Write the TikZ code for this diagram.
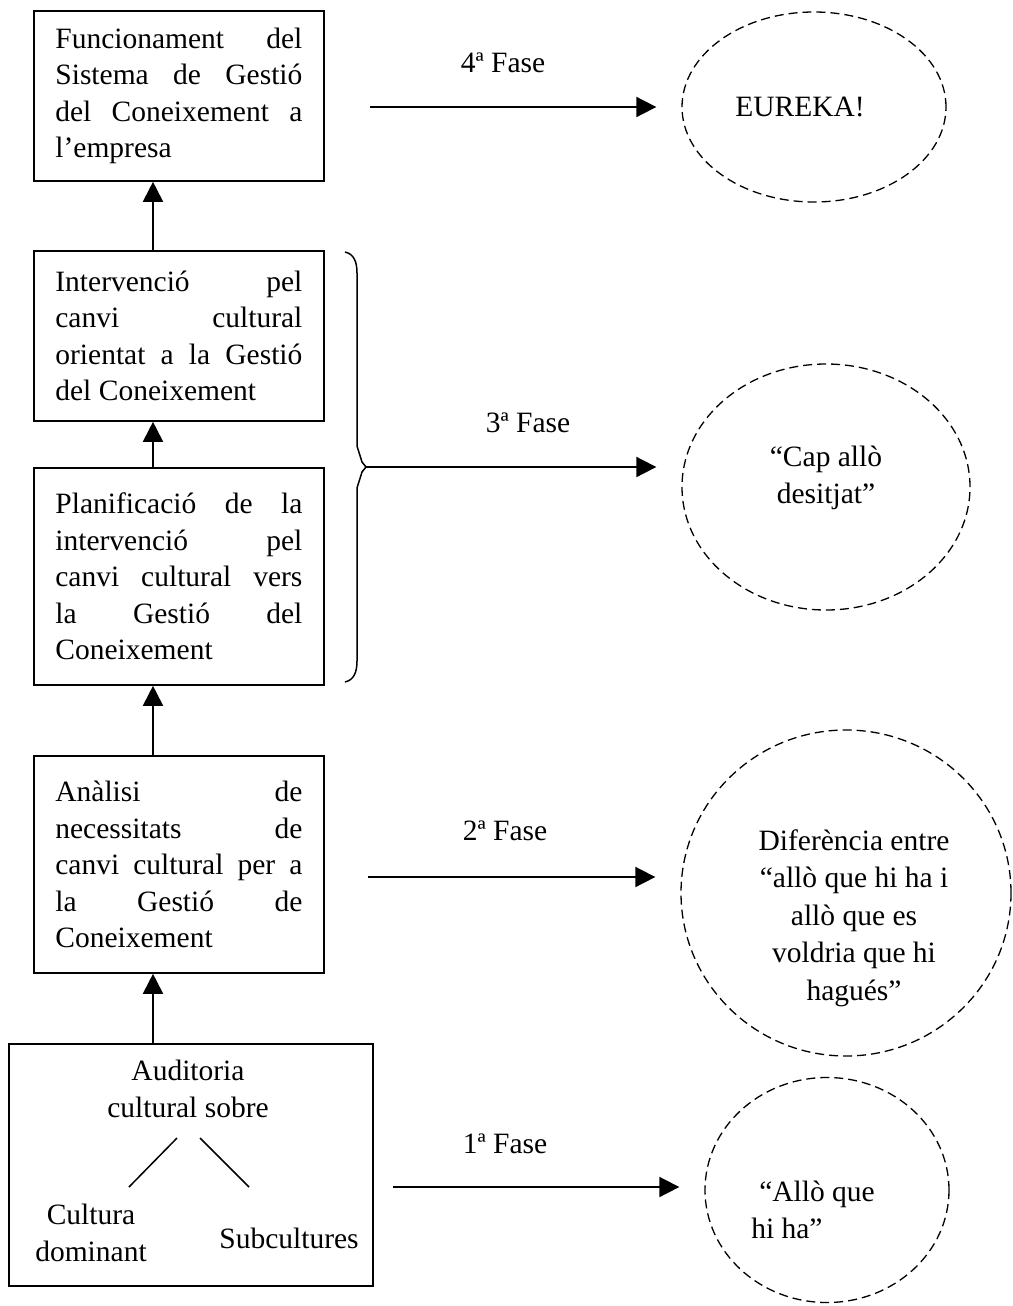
\documentclass[tikz,border=0pt]{standalone}
\usepackage{fontspec}
\setmainfont{Liberation Serif}
\usetikzlibrary{arrows.meta,shapes.geometric,calc}
\hyphenpenalty=10000
\exhyphenpenalty=10000
\begin{document}
\begin{tikzpicture}[x=1pt,y=-1pt,
  every node/.style={font=\fontsize{29.5}{36.5}\selectfont},
  stagebox/.style={draw,line width=1.8pt,text width=247pt,align=justify,
    inner xsep=21.5pt,inner ysep=0pt,minimum height=#1,anchor=north west},
  auditbox/.style={draw,line width=1.8pt,minimum width=364pt,minimum height=242pt,anchor=north west},
  arr/.style={line width=1.8pt,-{Triangle[length=20pt,width=20pt]}},
  phase/.style={ellipse,draw,dash pattern=on 9pt off 5pt,line width=1.3pt,inner sep=0pt},
  bubbletext/.style={align=center,inner sep=0pt,font=\fontsize{29.5}{37.5}\selectfont},
  fase/.style={anchor=base,inner sep=0pt},
  branch/.style={line width=1.5pt}]

\useasboundingbox (0,0) rectangle (1012,1306);

% left column of stages
\node[stagebox=170pt] (b1) at (33,10)
  {Funcionament del\linebreak Sistema de Gestió\linebreak del Coneixement a\linebreak l’empresa};
\node[stagebox=170pt] (b2) at (33,250)
  {Intervenció pel\linebreak canvi cultural\linebreak orientat a la Gestió\linebreak del Coneixement};
\node[stagebox=217pt] (b3) at (33,467)
  {Planificació de la\linebreak intervenció pel\linebreak canvi cultural vers\linebreak la Gestió del\linebreak Coneixement};
\node[stagebox=217pt] (b4) at (33,755)
  {Anàlisi de\linebreak necessitats de\linebreak canvi cultural per a\linebreak la Gestió de\linebreak Coneixement};
\node[auditbox] (b5) at (8,1043) {};

% contents of the audit box
\node[align=center,inner sep=0pt] (aud) at (188,1089) {Auditoria\\cultural sobre};
\node[align=center,inner sep=0pt] (dom) at (91,1233) {Cultura\\dominant};
\node[inner sep=0pt] (sub) at (289,1238) {Subcultures};
\coordinate (ba1) at (177,1138);
\coordinate (ba2) at (129,1187);
\coordinate (bb1) at (200,1138);
\coordinate (bb2) at (249,1187);
\draw[branch] (ba1) -- (ba2);
\draw[branch] (bb1) -- (bb2);

% upward arrows between stages
\coordinate (ax) at (153,0);
\draw[arr] (ax |- b2.north) -- (ax |- b1.south);
\draw[arr] (ax |- b3.north) -- (ax |- b2.south);
\draw[arr] (ax |- b4.north) -- (ax |- b3.south);
\draw[arr] (ax |- b5.north) -- (ax |- b4.south);

% brace grouping the two middle stages
\draw[line width=1.5pt] (345,252) .. controls (354,254) and (357,262) .. (357,273)
  -- (357,446) -- (362,462) -- (366,467) -- (362,472) -- (357,488) -- (357,661)
  .. controls (357,672) and (354,680) .. (345,682);
\coordinate (s3) at (366,467);

% outcome bubbles
\node[phase,minimum width=264pt,minimum height=190pt] (e4) at (814,107) {};
\node[bubbletext] (e4t) at (800,107) {EUREKA!};
\node[phase,minimum width=288pt,minimum height=246pt] (e3) at (826,487) {};
\node[bubbletext] (e3t) at (826,478) {“Cap allò\\desitjat”};
\node[phase,minimum width=330pt,minimum height=326pt] (e2) at (846,893) {};
\node[bubbletext] (e2t) at (854,918) {Diferència entre\\“allò que hi ha i\\allò que es\\voldria que hi\\hagués”};
\node[phase,minimum width=244pt,minimum height=225pt] (e1) at (827,1190) {};
\node[bubbletext,align=left] (e1t) at (813,1210) {\hspace*{8pt}“Allò que\\hi ha”};

% phase arrows
\coordinate (s4) at (370,107);
\coordinate (s2) at (368,877);
\coordinate (s1) at (393,1187);
\draw[arr,shorten >=25pt] (s4) -- (s4 -| e4.west);
\draw[arr,shorten >=25pt] (s3) -- (s3 -| e3.west);
\draw[arr,shorten >=25pt] (s2) -- (s2 -| e2.west);
\draw[arr,shorten >=25pt] (s1) -- (s1 -| e1.west);

\node[fase] (l4) at (503,72) {4ª Fase};
\node[fase] (l3) at (528,432) {3ª Fase};
\node[fase] (l2) at (505,840) {2ª Fase};
\node[fase] (l1) at (505,1153) {1ª Fase};

\end{tikzpicture}
\end{document}
